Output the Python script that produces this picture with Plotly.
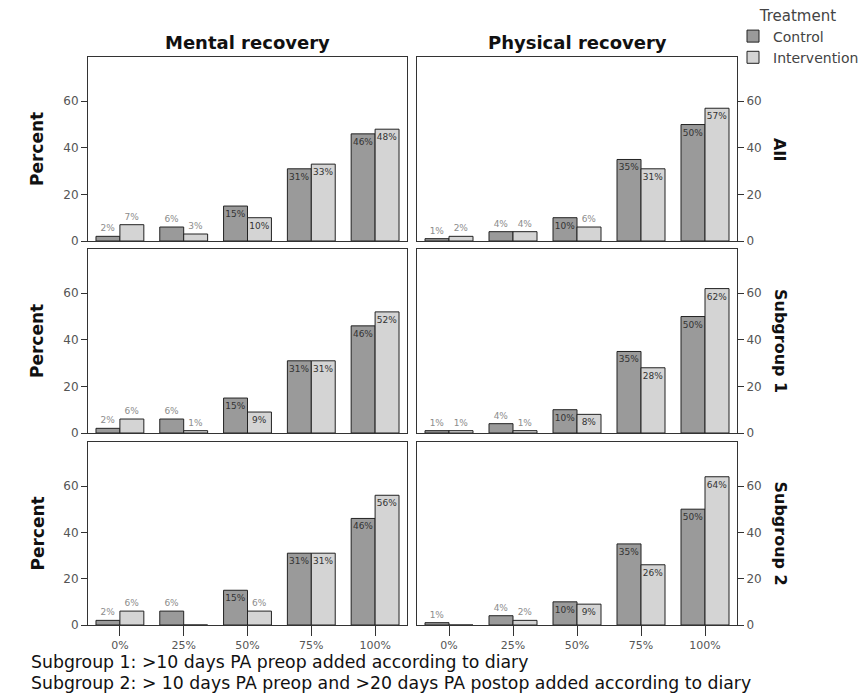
import plotly.graph_objects as go

categories = ["0%", "25%", "50%", "75%", "100%"]
rows = ["All", "Subgroup 1", "Subgroup 2"]
cols = ["Mental recovery", "Physical recovery"]

mental_control = [2, 6, 15, 31, 46]
mental_all_int = [7, 3, 10, 33, 48]
mental_sub1_int = [6, 1, 9, 31, 52]
mental_sub2_int = [6, 0, 6, 31, 56]

physical_control = [1, 4, 10, 35, 50]
physical_all_int = [2, 4, 6, 31, 57]
physical_sub1_int = [1, 1, 8, 28, 62]
physical_sub2_int = [0, 2, 9, 26, 64]

panels = [
    (mental_control, mental_all_int),
    (physical_control, physical_all_int),
    (mental_control, mental_sub1_int),
    (physical_control, physical_sub1_int),
    (mental_control, mental_sub2_int),
    (physical_control, physical_sub2_int),
]

W, H = 868, 700
xdom = [[88 / W, 407 / W], [417 / W, 737 / W]]
ydom = [[1 - 241 / H, 1 - 57 / H], [1 - 433 / H, 1 - 249 / H], [1 - 625 / H, 1 - 442 / H]]

FONT = "DejaVu Sans"
CTRL = "#9a9a9a"
INTV = "#d4d4d4"

fig = go.Figure()


def labels(vals):
    return ["" if v == 0 else f"{v}%" for v in vals]


def positions(vals):
    return ["inside" if v >= 8 else "outside" for v in vals]


def colors(vals):
    return ["#333333" if v >= 8 else "#8c8c8c" for v in vals]


for i, (ctrl, intv) in enumerate(panels):
    n = i + 1
    xa = "x" if n == 1 else f"x{n}"
    ya = "y" if n == 1 else f"y{n}"
    for name, vals, color in (("Control", ctrl, CTRL), ("Intervention", intv, INTV)):
        fig.add_trace(go.Bar(
            x=categories, y=vals, name=name, legendgroup=name, showlegend=(i == 0),
            marker=dict(color=color, line=dict(color="#222222", width=1)),
            text=labels(vals), textposition=positions(vals), insidetextanchor="end",
            texttemplate="%{text}", textangle=0,
            textfont=dict(family=FONT, size=9, color=colors(vals)),
            constraintext="none", cliponaxis=False,
            xaxis=xa, yaxis=ya, hoverinfo="skip",
        ))

    r, c = i // 2, i % 2
    xkey = "xaxis" if n == 1 else f"xaxis{n}"
    ykey = "yaxis" if n == 1 else f"yaxis{n}"
    fig.layout[xkey] = dict(
        domain=xdom[c], anchor=ya, showline=True, mirror=True, linecolor="#333333",
        linewidth=1, showgrid=False, zeroline=False,
        showticklabels=(r == 2), ticks="outside" if r == 2 else "", ticklen=10,
        tickcolor="#333333",
        tickfont=dict(family=FONT, size=11, color="#555555"),
        type="category", categoryorder="array", categoryarray=categories,
    )
    fig.layout[ykey] = dict(
        domain=ydom[r], anchor=xa, range=[0, 79], showline=True, mirror=True,
        linecolor="#333333", linewidth=1, showgrid=False, zeroline=False,
        tickvals=[0, 20, 40, 60], ticks="outside", ticklen=6, tickcolor="#333333",
        side="left" if c == 0 else "right",
        tickfont=dict(family=FONT, size=12, color="#555555"),
    )

annotations = []
for c, t in enumerate(cols):
    annotations.append(dict(
        text=f"<b>{t}</b>", x=(xdom[c][0] + xdom[c][1]) / 2, y=1 - 42 / H,
        xref="paper", yref="paper", showarrow=False, xanchor="center", yanchor="middle",
        font=dict(family=FONT, size=18, color="#111111"),
    ))
for r, t in enumerate(rows):
    yc = (ydom[r][0] + ydom[r][1]) / 2
    annotations.append(dict(
        text=f"<b>{t}</b>", x=780 / W, y=yc, xref="paper", yref="paper",
        showarrow=False, textangle=90, xanchor="center", yanchor="middle",
        font=dict(family=FONT, size=16, color="#111111"),
    ))
    annotations.append(dict(
        text="<b>Percent</b>", x=37 / W, y=yc, xref="paper", yref="paper",
        showarrow=False, textangle=-90, xanchor="center", yanchor="middle",
        font=dict(family=FONT, size=17, color="#111111"),
    ))

notes = [
    "Subgroup 1: >10 days PA preop added according to diary",
    "Subgroup 2: > 10 days PA preop and >20 days PA postop added according to diary",
]
for k, t in enumerate(notes):
    annotations.append(dict(
        text=t, x=29 / W, y=1 - (662 + 21 * k) / H, xref="paper", yref="paper",
        showarrow=False, xanchor="left", yanchor="middle",
        font=dict(family=FONT, size=17.3, color="#111111"),
    ))

fig.update_layout(
    width=W, height=H, margin=dict(l=0, r=0, t=0, b=0, autoexpand=False),
    paper_bgcolor="white", plot_bgcolor="white",
    barmode="group", bargap=0.25, bargroupgap=0,
    annotations=annotations,
    legend=dict(
        x=733 / W, y=1 - 1 / H, xanchor="left", yanchor="top",
        title=dict(text="Treatment", side="top center", font=dict(family=FONT, size=15, color="#444444")),
        font=dict(family=FONT, size=14, color="#444444"),
        tracegroupgap=0, itemwidth=30, bgcolor="rgba(0,0,0,0)",
    ),
)

fig.write_html("out.html")
